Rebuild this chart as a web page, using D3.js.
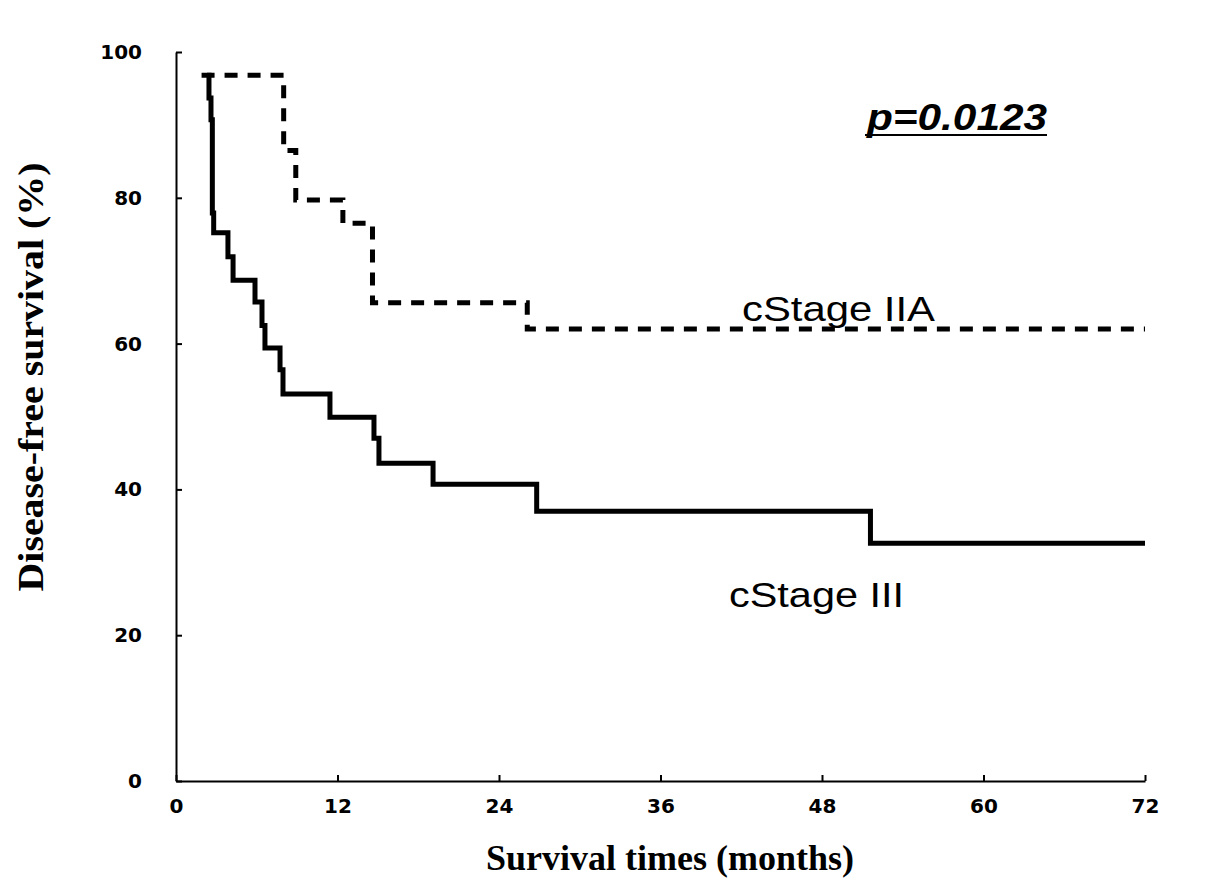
<!DOCTYPE html>
<html>
<head>
<meta charset="utf-8">
<script src="https://d3js.org/d3.v7.min.js"></script>
<style>
  body { margin: 0; background: #fff; }
  .tick text { font-family: "DejaVu Sans", sans-serif; font-weight: bold; font-size: 20px; fill: #000; }
</style>
</head>
<body>
<div id="vis1"></div>
<script>
const FRAME_WIDTH = 1205;
const FRAME_HEIGHT = 894;
const MARGINS = {left: 176, right: 60, top: 52, bottom: 113};

// survival data (months, % disease-free)
const stageIIA_times = [1.9, 8.0, 8.9, 12.4, 14.6, 26.1, 72];
const stageIIA_surv  = [96.8, 86.5, 79.7, 76.5, 65.6, 62.0, 62.0];

const stageIII_times = [2.3, 2.45, 2.6, 2.7, 2.8, 3.86, 4.24, 5.87, 6.39, 6.61, 7.73, 7.95, 11.44, 14.71, 15.08, 19.1, 26.8, 51.6, 72];
const stageIII_surv  = [96.8, 93.7, 90.7, 77.9, 75.2, 71.9, 68.7, 65.7, 62.5, 59.4, 56.4, 53.1, 49.9, 47.0, 43.6, 40.7, 37.0, 32.6, 32.6];

const x_ticks = [0, 12, 24, 36, 48, 60, 72];
const y_ticks = [0, 20, 40, 60, 80, 100];

const FRAME = d3.select("#vis1")
                .append("svg")
                  .attr("width", FRAME_WIDTH)
                  .attr("height", FRAME_HEIGHT);

FRAME.append("rect")
      .attr("width", FRAME_WIDTH)
      .attr("height", FRAME_HEIGHT)
      .attr("fill", "#fff");

const X_SCALE = d3.scaleLinear()
                  .domain([0, 72])
                  .range([MARGINS.left, 1145]);

const Y_SCALE = d3.scaleLinear()
                  .domain([0, 100])
                  .range([FRAME_HEIGHT - MARGINS.bottom, MARGINS.top]);

// axes, ticks point inward
FRAME.append("g")
      .attr("transform", "translate(0," + Y_SCALE(0) + ")")
      .call(d3.axisBottom(X_SCALE).tickValues(x_ticks).tickSizeInner(-6).tickSizeOuter(0).tickPadding(18));

FRAME.append("g")
      .attr("transform", "translate(" + X_SCALE(0) + ",0)")
      .call(d3.axisLeft(Y_SCALE).tickValues(y_ticks).tickSizeInner(-6).tickSizeOuter(0).tickPadding(34));

FRAME.selectAll(".domain, .tick line")
      .attr("stroke", "#000")
      .attr("stroke-width", 2);

const line = d3.line()
               .x((d) => X_SCALE(d[0]))
               .y((d) => Y_SCALE(d[1]))
               .curve(d3.curveStepAfter);

FRAME.append("path")
      .datum(d3.zip(stageIII_times, stageIII_surv))
      .attr("d", line)
      .attr("fill", "none")
      .attr("stroke", "#000")
      .attr("stroke-width", 5);

FRAME.append("path")
      .datum(d3.zip(stageIIA_times, stageIIA_surv))
      .attr("d", line)
      .attr("fill", "none")
      .attr("stroke", "#000")
      .attr("stroke-width", 5)
      .attr("stroke-dasharray", "13,10");

// curve labels
FRAME.append("text")
      .attr("x", 742)
      .attr("y", 321)
      .attr("font-family", "Liberation Sans, Arial, sans-serif")
      .attr("font-size", 35)
      .attr("textLength", 193)
      .attr("lengthAdjust", "spacingAndGlyphs")
      .text("cStage IIA");

FRAME.append("text")
      .attr("x", 729)
      .attr("y", 607)
      .attr("font-family", "Liberation Sans, Arial, sans-serif")
      .attr("font-size", 35)
      .attr("textLength", 175)
      .attr("lengthAdjust", "spacingAndGlyphs")
      .text("cStage III");

FRAME.append("text")
      .attr("x", 867)
      .attr("y", 130)
      .attr("font-family", "Liberation Sans, Arial, sans-serif")
      .attr("font-size", 36)
      .attr("font-weight", "bold")
      .attr("font-style", "italic")
      .attr("textLength", 180)
      .attr("lengthAdjust", "spacingAndGlyphs")
      .text("p=0.0123");

FRAME.append("line")
      .attr("x1", 865).attr("x2", 1047)
      .attr("y1", 135).attr("y2", 135)
      .attr("stroke", "#000")
      .attr("stroke-width", 2);

// axis titles
FRAME.append("text")
      .attr("x", 670)
      .attr("y", 870)
      .attr("text-anchor", "middle")
      .attr("font-family", "Liberation Serif, Times New Roman, serif")
      .attr("font-weight", "bold")
      .attr("font-size", 35)
      .attr("textLength", 368)
      .attr("lengthAdjust", "spacingAndGlyphs")
      .text("Survival times (months)");

FRAME.append("text")
      .attr("transform", "translate(43,377) rotate(-90)")
      .attr("text-anchor", "middle")
      .attr("font-family", "Liberation Serif, Times New Roman, serif")
      .attr("font-weight", "bold")
      .attr("font-size", 36)
      .attr("textLength", 429)
      .attr("lengthAdjust", "spacingAndGlyphs")
      .text("Disease-free survival (%)");
</script>
</body>
</html>
